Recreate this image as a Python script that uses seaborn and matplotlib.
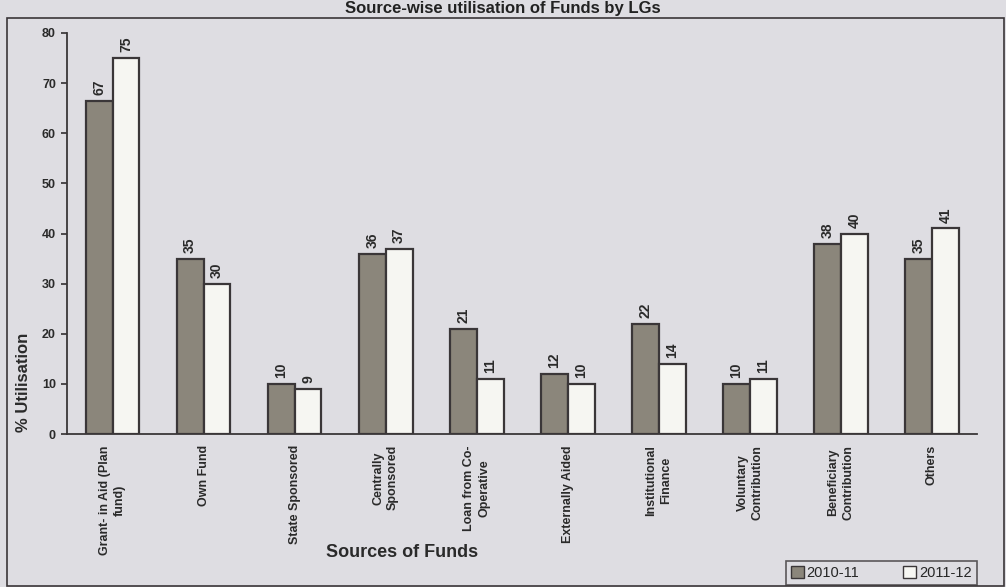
import matplotlib
matplotlib.use("Agg")
import matplotlib.pyplot as plt
from matplotlib.patches import Rectangle, Patch
import seaborn as sns
import pandas as pd

categories = ["Grant- in Aid (Plan\nfund)", "Own Fund", "State Sponsored", "Centrally\nSponsored",
              "Loan from Co-\nOperative", "Externally Aided", "Institutional\nFinance",
              "Voluntary\nContribution", "Beneficiary\nContribution", "Others"]
series_names = ["2010-11", "2011-12"]
values_2010 = [66.5, 35, 10, 36, 21, 12, 22, 10, 38, 35]
values_2011 = [75, 30, 9, 37, 11, 10, 14, 11, 40, 41]
labels_2010 = ["67", "35", "10", "36", "21", "12", "22", "10", "38", "35"]
labels_2011 = ["75", "30", "9", "37", "11", "10", "14", "11", "40", "41"]
yticks = [0, 10, 20, 30, 40, 50, 60, 70, 80]

df = pd.DataFrame({
    "cat": categories * 2,
    "year": [series_names[0]] * len(categories) + [series_names[1]] * len(categories),
    "val": values_2010 + values_2011,
})

sns.set_theme(style="white")
plt.rcParams["font.family"] = ["Liberation Sans Narrow", "Liberation Sans", "DejaVu Sans"]

BG = "#dedde2"
DARK = "#8b867b"
LIGHT = "#f6f6f2"
EDGE = "#3a3638"
TXT = "#2a2a2a"

fig = plt.figure(figsize=(10.06, 5.87), dpi=100, facecolor=BG)
ax = fig.add_axes([0.0666, 0.2606, 0.905, 0.6832])
ax.set_facecolor(BG)

sns.barplot(data=df, x="cat", y="val", hue="year", order=categories, hue_order=series_names,
            palette=[DARK, LIGHT], width=0.59, edgecolor=EDGE, linewidth=1.6,
            ax=ax, legend=False, saturation=1)

for cont, labs in zip(ax.containers, [labels_2010, labels_2011]):
    ax.bar_label(cont, labels=labs, rotation=90, padding=4, fontsize=10,
                 fontweight="bold", color=TXT)

ax.set_ylim(0, 80)
ax.set_xlim(-0.5, len(categories) - 0.5)
ax.set_yticks(yticks)
ax.set_yticklabels([str(t) for t in yticks], fontsize=9, fontweight="bold", color=TXT)
ax.set_xticks(range(len(categories)))
ax.set_xticklabels(categories, rotation=90, fontsize=9, fontweight="bold", color=TXT,
                   va="top", ha="center", linespacing=1.3)
ax.tick_params(axis="x", length=0, pad=8)
ax.set_xticks([i + 0.5 for i in range(len(categories))], minor=True)
ax.tick_params(axis="x", which="minor", length=4, direction="out", color=EDGE)
ax.tick_params(axis="y", length=4, direction="out", color=EDGE, left=True, pad=4)

for s in ["top", "right"]:
    ax.spines[s].set_visible(False)
for s in ["left", "bottom"]:
    ax.spines[s].set_color(EDGE)
    ax.spines[s].set_linewidth(1.3)

ax.set_ylabel("% Utilisation", fontsize=12, fontweight="bold", color=TXT)
ax.yaxis.set_label_coords(-0.04, 0.13)
ax.set_xlabel("Sources of Funds", fontsize=13, fontweight="bold", color=TXT)
ax.xaxis.set_label_coords(0.368, -0.275)

# figure frame
fig.patches.append(Rectangle((7 / 1006, 1 / 587), 997 / 1006, 1 - 19 / 587,
                             transform=fig.transFigure, fill=False,
                             edgecolor=EDGE, linewidth=1.2))
fig.text(0.5, 1 - 1 / 587, "Source-wise utilisation of Funds by LGs", ha="center", va="top",
         fontsize=12, fontweight="bold", color="#222222")

handles = [Patch(facecolor=DARK, edgecolor=EDGE, label=series_names[0]),
           Patch(facecolor=LIGHT, edgecolor=EDGE, label=series_names[1])]
leg = fig.legend(handles=handles, loc="lower right", bbox_to_anchor=(977 / 1006, 2 / 587),
                 ncol=2, frameon=True, fontsize=10.5, handlelength=0.9, handleheight=0.9,
                 handletextpad=0.2, columnspacing=3.0, borderpad=0.35, borderaxespad=0,
                 fancybox=False)
leg.get_frame().set_edgecolor(EDGE)
leg.get_frame().set_facecolor(BG)
leg.get_frame().set_linewidth(1.2)

fig.savefig("out.png", dpi=100, facecolor=BG)
